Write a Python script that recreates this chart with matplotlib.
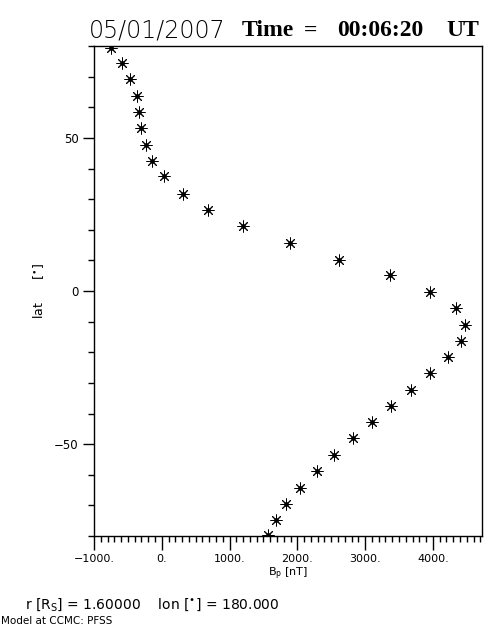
#!/usr/bin/env python3

'''
    Scatter of B_p versus latitude from a PFSS model run.
'''

import matplotlib
matplotlib.use("Agg")
import matplotlib.pyplot as plt
from matplotlib.ticker import MultipleLocator, FuncFormatter

# values
lat = [79.3, 74.4, 69.2, 63.6, 58.5, 53.2, 47.6, 42.5, 37.4, 31.7, 26.5,
       21.2, 15.6, 10.2, 5.2, -0.3, -5.7, -11.0, -16.3, -21.7, -26.9,
       -32.4, -37.5, -42.7, -48.1, -53.7, -58.8, -64.3, -69.7, -74.8, -79.8]
bp = [-754, -583, -469, -370, -331, -306, -237, -139, 30, 311, 689,
      1198, 1888, 2612, 3367, 3954, 4343, 4476, 4408, 4220, 3954,
      3673, 3382, 3101, 2820, 2538, 2287, 2046, 1839, 1686, 1572]

date_txt = "05/01/2007"
# title pieces and their left edges in pixels
time_parts = [("Time", 242), ("=", 304), ("00:06:20", 337), ("UT", 446)]
info_txt = r"r $\left[\mathrm{R_S}\right]$ = 1.60000    lon $\left[^{\bullet}\right]$ = 180.000"
model_txt = "Model at CCMC: PFSS"

W, H = 504, 630


def xfmt(v, pos):
    s = "%d." % v if v != 0 else "0."
    return s.replace("-", "\u2212")


def yfmt(v, pos):
    return ("%d" % v).replace("-", "\u2212")


def make_plot():
    fig = plt.figure(figsize=(W / 100, H / 100), dpi=100)
    ax = fig.add_axes([94 / W, 1 - 536 / H, 388 / W, 490 / H])

    ax.plot(bp, lat, linestyle="none", marker=(8, 2, 0), markersize=8.5,
            markeredgewidth=0.7, color="black")
    ax.plot(bp, lat, linestyle="none", marker="o", markersize=2.4,
            color="black")

    ax.set_xlim(-1000, 4725)
    ax.set_ylim(-80, 80)

    ax.xaxis.set_major_locator(MultipleLocator(1000))
    ax.xaxis.set_minor_locator(MultipleLocator(100))
    ax.yaxis.set_major_locator(MultipleLocator(50))
    ax.yaxis.set_minor_locator(MultipleLocator(10))
    ax.xaxis.set_major_formatter(FuncFormatter(xfmt))
    ax.yaxis.set_major_formatter(FuncFormatter(yfmt))

    ax.tick_params(axis="x", which="major", direction="out", length=10,
                   width=1, labelsize=8, pad=3)
    ax.tick_params(axis="x", which="minor", direction="out", length=4,
                   width=1)
    ax.tick_params(axis="y", which="major", direction="out", length=8,
                   width=1, labelsize=8.5, pad=3)
    ax.tick_params(axis="y", which="minor", direction="out", length=4,
                   width=1)
    for sp in ax.spines.values():
        sp.set_linewidth(1)

    ax.set_xlabel(r"B$_\mathrm{p}$ [nT]", fontsize=8, labelpad=1)
    ax.set_ylabel(r"lat      $\left[^{\bullet}\right]$", fontsize=9)
    ax.yaxis.set_label_coords(-(94 - 46) / 388, 0.5)

    fig.text(89 / W, 1 - 31 / H, date_txt, fontsize=17,
             family="DejaVu Sans", weight="light", color="black",
             va="center", ha="left")
    for txt, x in time_parts:
        fig.text(x / W, 1 - 31 / H, txt, fontsize=17,
                 family="Liberation Serif", weight="bold", va="center",
                 ha="left")
    fig.text(25 / W, 1 - 605 / H, info_txt, fontsize=10, va="center")
    fig.text(1 / W, 1 - 621 / H, model_txt, fontsize=7.5, va="center")

    fig.savefig("out.png", dpi=100)


if __name__ == "__main__":
    make_plot()
